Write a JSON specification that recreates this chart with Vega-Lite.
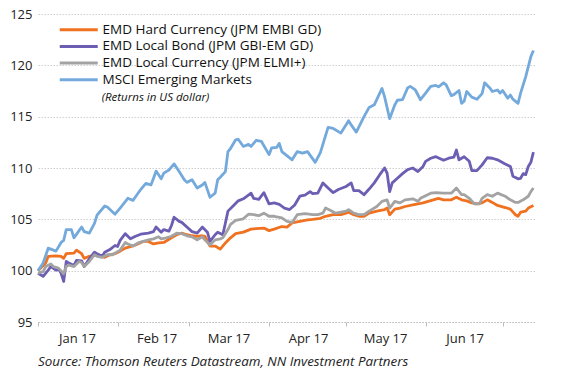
{
  "$schema": "https://vega.github.io/schema/vega-lite/v6.json",
  "width": 498,
  "height": 308,
  "autosize": {"type": "none"},
  "padding": {"left": 38, "top": 14, "right": 37, "bottom": 50},
  "background": "white",
  "title": {
    "text": "Source: Thomson Reuters Datastream, NN Investment Partners",
    "orient": "bottom",
    "anchor": "start",
    "frame": "group",
    "font": "Open Sans",
    "fontSize": 13.4,
    "fontStyle": "italic",
    "fontWeight": "normal",
    "color": "#222222",
    "offset": 10
  },
  "datasets": {
    "hc": [
      {"d": "2017-01-01", "v": 100.0}, {"d": "2017-01-04", "v": 100.75}, {"d": "2017-01-05", "v": 101.4}, {"d": "2017-01-08", "v": 101.45},
      {"d": "2017-01-10", "v": 101.4}, {"d": "2017-01-11", "v": 101.2}, {"d": "2017-01-12", "v": 101.65}, {"d": "2017-01-15", "v": 101.7},
      {"d": "2017-01-16", "v": 102.0}, {"d": "2017-01-18", "v": 101.65}, {"d": "2017-01-19", "v": 101.2}, {"d": "2017-01-21", "v": 101.4},
      {"d": "2017-01-24", "v": 101.55}, {"d": "2017-01-27", "v": 101.3}, {"d": "2017-01-29", "v": 101.55}, {"d": "2017-01-31", "v": 101.65},
      {"d": "2017-02-02", "v": 101.9}, {"d": "2017-02-04", "v": 102.2}, {"d": "2017-02-06", "v": 102.35}, {"d": "2017-02-08", "v": 102.5},
      {"d": "2017-02-11", "v": 102.85}, {"d": "2017-02-13", "v": 102.85}, {"d": "2017-02-15", "v": 102.6}, {"d": "2017-02-17", "v": 102.7},
      {"d": "2017-02-19", "v": 102.75}, {"d": "2017-02-22", "v": 103.2}, {"d": "2017-02-24", "v": 103.5}, {"d": "2017-02-26", "v": 103.65},
      {"d": "2017-02-28", "v": 103.5}, {"d": "2017-03-02", "v": 103.4}, {"d": "2017-03-04", "v": 103.35}, {"d": "2017-03-06", "v": 103.4},
      {"d": "2017-03-07", "v": 103.35}, {"d": "2017-03-09", "v": 102.4}, {"d": "2017-03-11", "v": 102.4}, {"d": "2017-03-13", "v": 102.1},
      {"d": "2017-03-15", "v": 102.7}, {"d": "2017-03-17", "v": 103.2}, {"d": "2017-03-19", "v": 103.6}, {"d": "2017-03-22", "v": 103.75},
      {"d": "2017-03-25", "v": 104.05}, {"d": "2017-03-27", "v": 104.1}, {"d": "2017-03-30", "v": 104.15}, {"d": "2017-04-01", "v": 103.9},
      {"d": "2017-04-03", "v": 104.05}, {"d": "2017-04-06", "v": 104.3}, {"d": "2017-04-08", "v": 104.25}, {"d": "2017-04-10", "v": 104.65},
      {"d": "2017-04-13", "v": 104.8}, {"d": "2017-04-16", "v": 104.95}, {"d": "2017-04-18", "v": 105.0}, {"d": "2017-04-21", "v": 105.1},
      {"d": "2017-04-23", "v": 105.3}, {"d": "2017-04-26", "v": 105.45}, {"d": "2017-04-29", "v": 105.45}, {"d": "2017-05-01", "v": 105.6},
      {"d": "2017-05-02", "v": 105.7}, {"d": "2017-05-04", "v": 105.45}, {"d": "2017-05-06", "v": 105.3}, {"d": "2017-05-08", "v": 105.3},
      {"d": "2017-05-10", "v": 105.6}, {"d": "2017-05-13", "v": 105.8}, {"d": "2017-05-16", "v": 105.95}, {"d": "2017-05-17", "v": 106.1},
      {"d": "2017-05-18", "v": 105.45}, {"d": "2017-05-20", "v": 106.0}, {"d": "2017-05-22", "v": 106.1}, {"d": "2017-05-24", "v": 106.25},
      {"d": "2017-05-27", "v": 106.4}, {"d": "2017-05-29", "v": 106.5}, {"d": "2017-05-31", "v": 106.6}, {"d": "2017-06-02", "v": 106.75},
      {"d": "2017-06-04", "v": 106.9}, {"d": "2017-06-06", "v": 107.05}, {"d": "2017-06-08", "v": 106.9}, {"d": "2017-06-11", "v": 106.9},
      {"d": "2017-06-13", "v": 107.15}, {"d": "2017-06-15", "v": 106.9}, {"d": "2017-06-17", "v": 106.8}, {"d": "2017-06-19", "v": 106.6},
      {"d": "2017-06-21", "v": 106.5}, {"d": "2017-06-23", "v": 106.6}, {"d": "2017-06-25", "v": 106.9}, {"d": "2017-06-27", "v": 106.65},
      {"d": "2017-06-29", "v": 106.35}, {"d": "2017-07-02", "v": 106.15}, {"d": "2017-07-04", "v": 106.0}, {"d": "2017-07-06", "v": 105.45},
      {"d": "2017-07-07", "v": 105.3}, {"d": "2017-07-08", "v": 105.7}, {"d": "2017-07-10", "v": 105.8}, {"d": "2017-07-11", "v": 106.1},
      {"d": "2017-07-13", "v": 106.35}
    ],
    "lb": [
      {"d": "2017-01-01", "v": 99.75}, {"d": "2017-01-03", "v": 99.45}, {"d": "2017-01-05", "v": 100.05}, {"d": "2017-01-06", "v": 100.4},
      {"d": "2017-01-08", "v": 100.05}, {"d": "2017-01-09", "v": 100.15}, {"d": "2017-01-10", "v": 99.75}, {"d": "2017-01-11", "v": 98.95},
      {"d": "2017-01-12", "v": 100.9}, {"d": "2017-01-13", "v": 100.75}, {"d": "2017-01-15", "v": 100.5}, {"d": "2017-01-16", "v": 101.0},
      {"d": "2017-01-18", "v": 100.95}, {"d": "2017-01-19", "v": 100.4}, {"d": "2017-01-21", "v": 101.15}, {"d": "2017-01-23", "v": 101.8},
      {"d": "2017-01-24", "v": 101.65}, {"d": "2017-01-26", "v": 101.4}, {"d": "2017-01-27", "v": 101.8}, {"d": "2017-01-29", "v": 102.05},
      {"d": "2017-01-31", "v": 102.45}, {"d": "2017-02-01", "v": 102.35}, {"d": "2017-02-02", "v": 102.95}, {"d": "2017-02-04", "v": 103.6},
      {"d": "2017-02-05", "v": 103.35}, {"d": "2017-02-06", "v": 103.1}, {"d": "2017-02-08", "v": 103.35}, {"d": "2017-02-10", "v": 103.55},
      {"d": "2017-02-13", "v": 103.65}, {"d": "2017-02-15", "v": 103.8}, {"d": "2017-02-16", "v": 104.25}, {"d": "2017-02-18", "v": 103.75},
      {"d": "2017-02-19", "v": 104.0}, {"d": "2017-02-21", "v": 103.85}, {"d": "2017-02-22", "v": 104.4}, {"d": "2017-02-23", "v": 105.2},
      {"d": "2017-02-25", "v": 104.8}, {"d": "2017-02-26", "v": 104.7}, {"d": "2017-02-28", "v": 104.25}, {"d": "2017-03-02", "v": 103.8},
      {"d": "2017-03-04", "v": 103.65}, {"d": "2017-03-06", "v": 104.25}, {"d": "2017-03-08", "v": 103.75}, {"d": "2017-03-09", "v": 102.85},
      {"d": "2017-03-11", "v": 103.5}, {"d": "2017-03-12", "v": 103.75}, {"d": "2017-03-14", "v": 103.5}, {"d": "2017-03-15", "v": 104.65},
      {"d": "2017-03-16", "v": 105.8}, {"d": "2017-03-18", "v": 106.3}, {"d": "2017-03-20", "v": 106.8}, {"d": "2017-03-22", "v": 107.0},
      {"d": "2017-03-25", "v": 107.55}, {"d": "2017-03-26", "v": 107.05}, {"d": "2017-03-28", "v": 106.95}, {"d": "2017-03-30", "v": 107.6},
      {"d": "2017-04-01", "v": 106.5}, {"d": "2017-04-03", "v": 106.6}, {"d": "2017-04-05", "v": 106.45}, {"d": "2017-04-07", "v": 106.1},
      {"d": "2017-04-09", "v": 105.95}, {"d": "2017-04-11", "v": 106.4}, {"d": "2017-04-13", "v": 107.25}, {"d": "2017-04-15", "v": 107.35},
      {"d": "2017-04-17", "v": 107.7}, {"d": "2017-04-18", "v": 107.5}, {"d": "2017-04-20", "v": 107.55}, {"d": "2017-04-22", "v": 108.55},
      {"d": "2017-04-24", "v": 108.05}, {"d": "2017-04-26", "v": 107.6}, {"d": "2017-04-28", "v": 107.9}, {"d": "2017-05-01", "v": 108.2},
      {"d": "2017-05-03", "v": 108.55}, {"d": "2017-05-04", "v": 107.8}, {"d": "2017-05-06", "v": 107.8}, {"d": "2017-05-08", "v": 107.4},
      {"d": "2017-05-10", "v": 107.95}, {"d": "2017-05-12", "v": 108.55}, {"d": "2017-05-14", "v": 109.3}, {"d": "2017-05-16", "v": 110.0},
      {"d": "2017-05-17", "v": 109.5}, {"d": "2017-05-18", "v": 107.7}, {"d": "2017-05-19", "v": 108.55}, {"d": "2017-05-21", "v": 109.0},
      {"d": "2017-05-23", "v": 109.45}, {"d": "2017-05-25", "v": 109.85}, {"d": "2017-05-27", "v": 110.0}, {"d": "2017-05-29", "v": 109.65},
      {"d": "2017-05-31", "v": 110.15}, {"d": "2017-06-01", "v": 110.65}, {"d": "2017-06-03", "v": 110.95}, {"d": "2017-06-05", "v": 111.1},
      {"d": "2017-06-08", "v": 110.75}, {"d": "2017-06-10", "v": 110.95}, {"d": "2017-06-12", "v": 111.05}, {"d": "2017-06-13", "v": 111.75},
      {"d": "2017-06-14", "v": 110.8}, {"d": "2017-06-16", "v": 111.1}, {"d": "2017-06-18", "v": 110.65}, {"d": "2017-06-19", "v": 109.75},
      {"d": "2017-06-21", "v": 109.75}, {"d": "2017-06-23", "v": 110.3}, {"d": "2017-06-25", "v": 111.0}, {"d": "2017-06-27", "v": 110.95},
      {"d": "2017-06-29", "v": 110.8}, {"d": "2017-07-02", "v": 110.4}, {"d": "2017-07-04", "v": 110.15}, {"d": "2017-07-05", "v": 109.2},
      {"d": "2017-07-07", "v": 108.95}, {"d": "2017-07-08", "v": 109.0}, {"d": "2017-07-09", "v": 109.45}, {"d": "2017-07-10", "v": 109.35},
      {"d": "2017-07-11", "v": 110.15}, {"d": "2017-07-12", "v": 110.55}, {"d": "2017-07-13", "v": 111.55}
    ],
    "lc": [
      {"d": "2017-01-01", "v": 99.75}, {"d": "2017-01-03", "v": 99.9}, {"d": "2017-01-04", "v": 100.4}, {"d": "2017-01-06", "v": 100.65},
      {"d": "2017-01-07", "v": 100.4}, {"d": "2017-01-09", "v": 100.25}, {"d": "2017-01-11", "v": 99.7}, {"d": "2017-01-12", "v": 100.4},
      {"d": "2017-01-13", "v": 100.55}, {"d": "2017-01-15", "v": 100.4}, {"d": "2017-01-17", "v": 100.9}, {"d": "2017-01-18", "v": 100.8},
      {"d": "2017-01-19", "v": 100.4}, {"d": "2017-01-21", "v": 100.9}, {"d": "2017-01-23", "v": 101.55}, {"d": "2017-01-24", "v": 101.4},
      {"d": "2017-01-26", "v": 101.3}, {"d": "2017-01-28", "v": 101.55}, {"d": "2017-01-30", "v": 101.55}, {"d": "2017-01-31", "v": 101.7},
      {"d": "2017-02-02", "v": 102.0}, {"d": "2017-02-04", "v": 102.75}, {"d": "2017-02-05", "v": 102.6}, {"d": "2017-02-07", "v": 102.4},
      {"d": "2017-02-09", "v": 102.7}, {"d": "2017-02-11", "v": 102.85}, {"d": "2017-02-13", "v": 103.0}, {"d": "2017-02-15", "v": 103.1},
      {"d": "2017-02-17", "v": 103.3}, {"d": "2017-02-18", "v": 103.1}, {"d": "2017-02-20", "v": 103.2}, {"d": "2017-02-22", "v": 103.35},
      {"d": "2017-02-24", "v": 103.65}, {"d": "2017-02-26", "v": 103.6}, {"d": "2017-02-28", "v": 103.4}, {"d": "2017-03-02", "v": 103.3},
      {"d": "2017-03-04", "v": 103.0}, {"d": "2017-03-06", "v": 103.3}, {"d": "2017-03-07", "v": 103.0}, {"d": "2017-03-09", "v": 102.5},
      {"d": "2017-03-11", "v": 103.0}, {"d": "2017-03-13", "v": 103.1}, {"d": "2017-03-14", "v": 103.2}, {"d": "2017-03-16", "v": 104.0},
      {"d": "2017-03-17", "v": 104.5}, {"d": "2017-03-19", "v": 104.9}, {"d": "2017-03-22", "v": 105.05}, {"d": "2017-03-24", "v": 105.5},
      {"d": "2017-03-26", "v": 105.45}, {"d": "2017-03-28", "v": 105.35}, {"d": "2017-03-30", "v": 105.6}, {"d": "2017-04-01", "v": 105.3},
      {"d": "2017-04-03", "v": 105.3}, {"d": "2017-04-06", "v": 105.15}, {"d": "2017-04-08", "v": 104.8}, {"d": "2017-04-10", "v": 104.7},
      {"d": "2017-04-12", "v": 105.45}, {"d": "2017-04-15", "v": 105.55}, {"d": "2017-04-18", "v": 105.45}, {"d": "2017-04-20", "v": 105.45},
      {"d": "2017-04-22", "v": 105.6}, {"d": "2017-04-23", "v": 106.1}, {"d": "2017-04-25", "v": 105.85}, {"d": "2017-04-27", "v": 105.6},
      {"d": "2017-04-29", "v": 105.7}, {"d": "2017-05-01", "v": 105.8}, {"d": "2017-05-02", "v": 105.95}, {"d": "2017-05-04", "v": 105.6},
      {"d": "2017-05-06", "v": 105.45}, {"d": "2017-05-08", "v": 105.45}, {"d": "2017-05-10", "v": 105.8}, {"d": "2017-05-13", "v": 106.25},
      {"d": "2017-05-15", "v": 106.75}, {"d": "2017-05-17", "v": 106.9}, {"d": "2017-05-18", "v": 106.1}, {"d": "2017-05-20", "v": 106.75},
      {"d": "2017-05-22", "v": 106.6}, {"d": "2017-05-24", "v": 106.9}, {"d": "2017-05-27", "v": 107.0}, {"d": "2017-05-29", "v": 106.75},
      {"d": "2017-05-30", "v": 107.05}, {"d": "2017-06-01", "v": 107.3}, {"d": "2017-06-03", "v": 107.55}, {"d": "2017-06-05", "v": 107.6},
      {"d": "2017-06-08", "v": 107.55}, {"d": "2017-06-11", "v": 107.55}, {"d": "2017-06-13", "v": 108.05}, {"d": "2017-06-15", "v": 107.4},
      {"d": "2017-06-16", "v": 107.4}, {"d": "2017-06-18", "v": 107.05}, {"d": "2017-06-20", "v": 106.5}, {"d": "2017-06-22", "v": 106.5},
      {"d": "2017-06-23", "v": 107.05}, {"d": "2017-06-25", "v": 107.4}, {"d": "2017-06-27", "v": 107.25}, {"d": "2017-06-29", "v": 107.55},
      {"d": "2017-07-02", "v": 107.25}, {"d": "2017-07-04", "v": 106.9}, {"d": "2017-07-06", "v": 106.65}, {"d": "2017-07-07", "v": 106.65},
      {"d": "2017-07-09", "v": 106.9}, {"d": "2017-07-11", "v": 107.25}, {"d": "2017-07-12", "v": 107.7}, {"d": "2017-07-13", "v": 108.05}
    ],
    "em": [
      {"d": "2017-01-01", "v": 100.0}, {"d": "2017-01-03", "v": 100.75}, {"d": "2017-01-05", "v": 102.2}, {"d": "2017-01-07", "v": 102.0},
      {"d": "2017-01-08", "v": 101.9}, {"d": "2017-01-10", "v": 102.75}, {"d": "2017-01-11", "v": 102.95}, {"d": "2017-01-12", "v": 104.0},
      {"d": "2017-01-14", "v": 104.0}, {"d": "2017-01-15", "v": 103.2}, {"d": "2017-01-17", "v": 103.9}, {"d": "2017-01-18", "v": 104.25},
      {"d": "2017-01-19", "v": 103.8}, {"d": "2017-01-21", "v": 103.65}, {"d": "2017-01-23", "v": 104.6}, {"d": "2017-01-24", "v": 105.4},
      {"d": "2017-01-27", "v": 106.3}, {"d": "2017-01-28", "v": 106.2}, {"d": "2017-01-31", "v": 105.5}, {"d": "2017-02-02", "v": 106.1},
      {"d": "2017-02-03", "v": 106.4}, {"d": "2017-02-05", "v": 107.05}, {"d": "2017-02-07", "v": 106.85}, {"d": "2017-02-08", "v": 107.2},
      {"d": "2017-02-10", "v": 107.9}, {"d": "2017-02-12", "v": 108.5}, {"d": "2017-02-14", "v": 108.35}, {"d": "2017-02-15", "v": 109.0},
      {"d": "2017-02-16", "v": 109.7}, {"d": "2017-02-18", "v": 108.95}, {"d": "2017-02-19", "v": 109.5}, {"d": "2017-02-21", "v": 109.8},
      {"d": "2017-02-23", "v": 110.4}, {"d": "2017-02-25", "v": 109.65}, {"d": "2017-02-27", "v": 108.85}, {"d": "2017-02-28", "v": 108.6},
      {"d": "2017-03-02", "v": 108.85}, {"d": "2017-03-04", "v": 108.05}, {"d": "2017-03-06", "v": 108.35}, {"d": "2017-03-07", "v": 108.6},
      {"d": "2017-03-09", "v": 107.15}, {"d": "2017-03-11", "v": 107.55}, {"d": "2017-03-12", "v": 108.85}, {"d": "2017-03-13", "v": 109.1},
      {"d": "2017-03-15", "v": 109.65}, {"d": "2017-03-16", "v": 111.6}, {"d": "2017-03-17", "v": 111.9}, {"d": "2017-03-19", "v": 112.75},
      {"d": "2017-03-20", "v": 112.8}, {"d": "2017-03-22", "v": 112.1}, {"d": "2017-03-24", "v": 112.3}, {"d": "2017-03-25", "v": 112.1},
      {"d": "2017-03-27", "v": 112.7}, {"d": "2017-03-29", "v": 112.6}, {"d": "2017-04-01", "v": 111.3}, {"d": "2017-04-02", "v": 111.95},
      {"d": "2017-04-04", "v": 112.0}, {"d": "2017-04-05", "v": 112.4}, {"d": "2017-04-06", "v": 111.6}, {"d": "2017-04-10", "v": 110.8},
      {"d": "2017-04-12", "v": 111.6}, {"d": "2017-04-14", "v": 111.45}, {"d": "2017-04-16", "v": 111.6}, {"d": "2017-04-19", "v": 110.55},
      {"d": "2017-04-21", "v": 111.5}, {"d": "2017-04-24", "v": 113.95}, {"d": "2017-04-26", "v": 113.85}, {"d": "2017-04-29", "v": 113.4},
      {"d": "2017-05-02", "v": 114.6}, {"d": "2017-05-03", "v": 114.2}, {"d": "2017-05-05", "v": 113.5}, {"d": "2017-05-08", "v": 115.0},
      {"d": "2017-05-10", "v": 115.9}, {"d": "2017-05-12", "v": 116.15}, {"d": "2017-05-15", "v": 117.75}, {"d": "2017-05-16", "v": 116.95},
      {"d": "2017-05-18", "v": 114.8}, {"d": "2017-05-20", "v": 116.15}, {"d": "2017-05-21", "v": 116.6}, {"d": "2017-05-23", "v": 116.65},
      {"d": "2017-05-25", "v": 117.8}, {"d": "2017-05-26", "v": 117.95}, {"d": "2017-05-28", "v": 117.6}, {"d": "2017-05-30", "v": 116.65},
      {"d": "2017-06-01", "v": 117.3}, {"d": "2017-06-03", "v": 117.95}, {"d": "2017-06-05", "v": 118.05}, {"d": "2017-06-06", "v": 117.9},
      {"d": "2017-06-08", "v": 118.3}, {"d": "2017-06-09", "v": 118.1}, {"d": "2017-06-11", "v": 117.05}, {"d": "2017-06-12", "v": 117.15},
      {"d": "2017-06-14", "v": 117.55}, {"d": "2017-06-15", "v": 116.3}, {"d": "2017-06-16", "v": 116.5}, {"d": "2017-06-17", "v": 117.45},
      {"d": "2017-06-19", "v": 116.9}, {"d": "2017-06-21", "v": 116.7}, {"d": "2017-06-23", "v": 117.25}, {"d": "2017-06-24", "v": 118.3},
      {"d": "2017-06-26", "v": 117.8}, {"d": "2017-06-27", "v": 117.45}, {"d": "2017-06-29", "v": 117.6}, {"d": "2017-06-30", "v": 117.3},
      {"d": "2017-07-01", "v": 117.55}, {"d": "2017-07-03", "v": 116.8}, {"d": "2017-07-04", "v": 117.1}, {"d": "2017-07-05", "v": 116.7},
      {"d": "2017-07-07", "v": 116.3}, {"d": "2017-07-08", "v": 117.3}, {"d": "2017-07-10", "v": 118.9}, {"d": "2017-07-12", "v": 120.85},
      {"d": "2017-07-13", "v": 121.45}
    ]
  },
  "layer": [
    {
      "data": {"name": "hc"},
      "mark": {"type": "line", "strokeWidth": 2.8, "strokeJoin": "round"},
      "encoding": {
        "x": {
          "field": "d",
          "type": "temporal",
          "scale": {"type": "utc", "domain": ["2017-01-01", "2017-07-14"]},
          "axis": {
            "title": null,
            "values": ["2017-01-01", "2017-02-01", "2017-03-01", "2017-04-01", "2017-05-01", "2017-06-01", "2017-07-01"],
            "labelExpr": "utcmonth(datum.value) == 6 ? '' : utcFormat(datum.value, '%b %y')",
            "labelOffset": 39,
            "labelFlush": false,
            "labelOverlap": false,
            "labelBound": false,
            "grid": false,
            "domainColor": "#bdbdbd",
            "domainDash": [1.5, 1.5],
            "tickColor": "#bdbdbd",
            "tickSize": 4,
            "labelPadding": 6
          }
        },
        "y": {
          "field": "v",
          "type": "quantitative",
          "scale": {"domain": [95, 125], "nice": false, "zero": false},
          "axis": {
            "title": null,
            "values": [95, 100, 105, 110, 115, 120, 125],
            "domain": false,
            "ticks": false,
            "labelPadding": 6,
            "grid": true,
            "gridColor": "#cfcfcf",
            "gridDash": [1.5, 1.5]
          }
        },
        "color": {"datum": "EMD Hard Currency (JPM EMBI GD)"}
      }
    },
    {
      "data": {"name": "lb"},
      "mark": {"type": "line", "strokeWidth": 2.8, "strokeJoin": "round"},
      "encoding": {
        "x": {"field": "d", "type": "temporal"},
        "y": {"field": "v", "type": "quantitative"},
        "color": {"datum": "EMD Local Bond (JPM GBI-EM GD)"}
      }
    },
    {
      "data": {"name": "lc"},
      "mark": {"type": "line", "strokeWidth": 2.8, "strokeJoin": "round"},
      "encoding": {
        "x": {"field": "d", "type": "temporal"},
        "y": {"field": "v", "type": "quantitative"},
        "color": {"datum": "EMD Local Currency (JPM ELMI+)"}
      }
    },
    {
      "data": {"name": "em"},
      "mark": {"type": "line", "strokeWidth": 2.8, "strokeJoin": "round"},
      "encoding": {
        "x": {"field": "d", "type": "temporal"},
        "y": {"field": "v", "type": "quantitative"},
        "color": {
          "datum": "MSCI Emerging Markets",
          "scale": {
            "domain": ["EMD Hard Currency (JPM EMBI GD)", "EMD Local Bond (JPM GBI-EM GD)", "EMD Local Currency (JPM ELMI+)", "MSCI Emerging Markets"],
            "range": ["#F0711F", "#6C5EB2", "#A3A3A3", "#74A9DC"]
          },
          "legend": {
            "title": null,
            "orient": "none",
            "legendX": 34,
            "legendY": 9,
            "symbolType": "M-3.8,0H3.8",
            "symbolSize": 100,
            "symbolStrokeWidth": 3,
            "labelFont": "Open Sans",
            "labelFontSize": 13.5,
            "labelLimit": 0,
            "labelColor": "#111111",
            "labelOffset": 17,
            "rowPadding": 1.65,
            "padding": 0
          }
        }
      }
    },
    {
      "data": {"values": [{"note": "(Returns in US dollar)"}]},
      "mark": {"type": "text", "align": "left", "baseline": "middle", "font": "Open Sans", "fontSize": 11.5, "fontStyle": "italic", "fill": "#111111"},
      "encoding": {
        "x": {"datum": {"year": 2017, "month": 1, "date": 25, "hours": 20, "utc": true}, "type": "temporal"},
        "y": {"datum": 116.85, "type": "quantitative"},
        "text": {"field": "note", "type": "nominal"}
      }
    }
  ],
  "config": {
    "view": {"stroke": null},
    "axis": {"labelFont": "Open Sans", "labelFontSize": 13, "labelColor": "#222222"}
  }
}
